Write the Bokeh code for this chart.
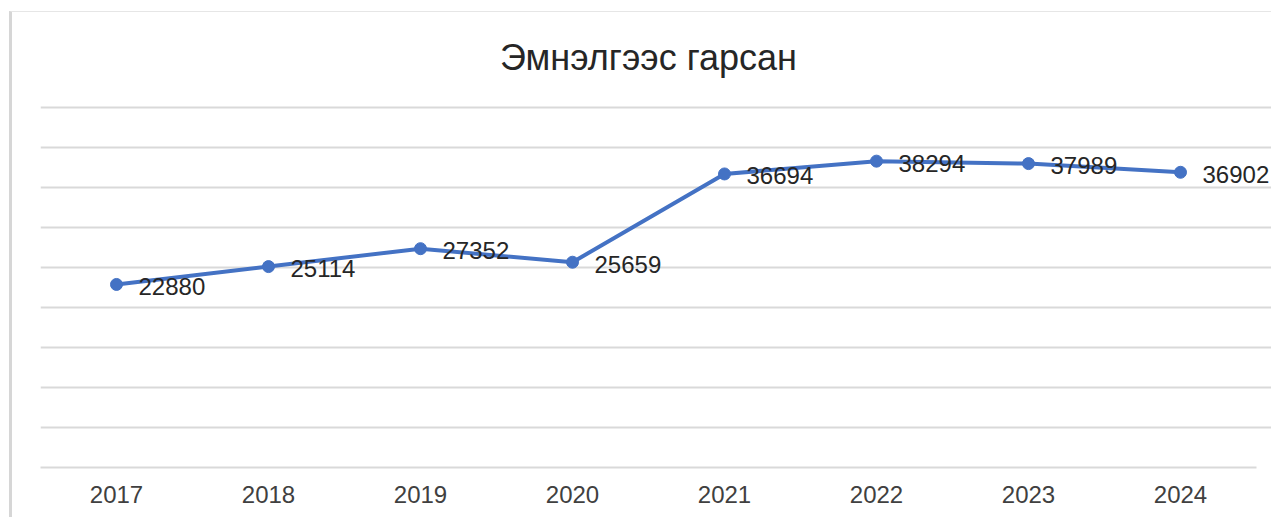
from bokeh.plotting import figure
from bokeh.models import ColumnDataSource, Range1d, FixedTicker, Label, LabelSet
from bokeh.embed import file_html
from bokeh.resources import INLINE
from bokeh.core.properties import value

years = ["2017", "2018", "2019", "2020", "2021", "2022", "2023", "2024"]
discharged = [22880, 25114, 27352, 25659, 36694, 38294, 37989, 36902]
title_text = "Эмнэлгээс гарсан"
y_ticks = [0, 5000, 10000, 15000, 20000, 25000, 30000, 35000, 40000, 45000]

xpos = [i + 0.5 for i in range(len(years))]
src = ColumnDataSource(dict(x=xpos, y=discharged, lbl=[str(v) for v in discharged]))

n = len(years)
p = figure(x_range=Range1d(0, n + 18 / 152), y_range=Range1d(0, 56875),
           width=1262, height=506, output_backend="svg", toolbar_location=None,
           min_border_left=28, min_border_right=0, min_border_top=0, min_border_bottom=51)
p.background_fill_color = "white"
p.border_fill_color = "white"
p.outline_line_color = None

p.yaxis.visible = False
p.ygrid.ticker = FixedTicker(ticks=y_ticks)
p.ygrid.grid_line_color = "#D9D9D9"
p.ygrid.grid_line_width = 2
p.ygrid.bounds = (0, n)
p.xgrid.visible = False

ax = p.xaxis[0]
ax.ticker = FixedTicker(ticks=xpos)
ax.major_label_overrides = {x: y for x, y in zip(xpos, years)}
ax.bounds = (0, n)
ax.axis_line_color = "#D9D9D9"
ax.axis_line_width = 2
ax.major_tick_line_color = None
ax.minor_tick_line_color = None
ax.major_label_text_font = "Liberation Sans"
ax.major_label_text_font_size = "24px"
ax.major_label_text_color = "#404040"
ax.major_label_standoff = 12

p.line("x", "y", source=src, line_color="#4472C4", line_width=4)
p.scatter("x", "y", source=src, size=12, fill_color="#4472C4", line_color="#4472C4")

labels = LabelSet(x="x", y="y", text="lbl", source=src, x_offset=22, y_offset=-2,
                  text_baseline="middle", text_align="left",
                  text_font=value("Liberation Sans"), text_font_size="24px", text_color="#262626")
p.add_layout(labels)

p.add_layout(Label(x=n / 2, y=51250, text=title_text, text_align="center", text_baseline="middle",
                   text_font="Liberation Sans", text_font_size="36px", text_color="#262626"))

p.styles = {"margin-left": "9px", "margin-top": "11px",
            "border-left": "3px solid #D6D6D6", "border-top": "1px solid #E6E6E6"}

open("out.html", "w").write(file_html(p, INLINE))
